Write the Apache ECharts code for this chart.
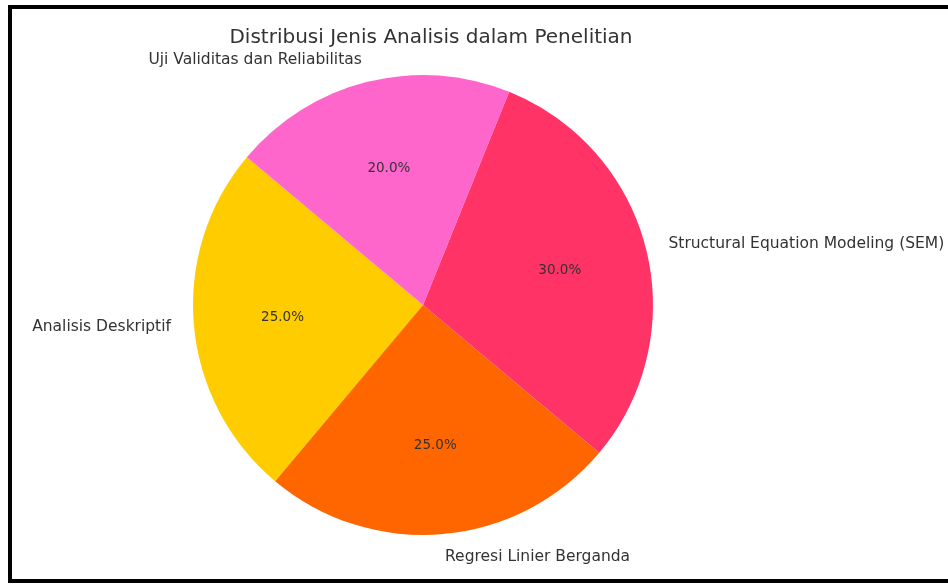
<!DOCTYPE html>
<html>
<head>
<meta charset="utf-8">
<script src="https://cdn.jsdelivr.net/npm/echarts@6/dist/echarts.min.js"></script>
<style>
  html, body { margin: 0; padding: 0; background: #fff; }
  #frame {
    position: absolute; left: 8px; top: 5px; width: 950px; height: 570px;
    border-left: 4px solid #000; border-top: 4px solid #000; border-bottom: 4px solid #000;
  }
  #chart { position: absolute; left: 0; top: 0; width: 948px; height: 584px; }
</style>
</head>
<body>
<div id="frame"></div>
<div id="chart"></div>
<script>
// data order follows the original (counter-clockwise from 140deg)
const categories = ['Analisis Deskriptif', 'Regresi Linier Berganda', 'Structural Equation Modeling (SEM)', 'Uji Validitas dan Reliabilitas']
const values = [25, 25, 30, 20]
const colors = ['#ffcc00', '#ff6600', '#ff3366', '#ff66cc']

const R = 230
const center = [423, 305]
const font = 'DejaVu Sans'

const pieData = categories.map((name, i) => ({ name, value: values[i], itemStyle: { color: colors[i] } }))

const chart = echarts.init(document.getElementById('chart'))
chart.setOption({
  animation: false,
  title: {
    text: 'Distribusi Jenis Analisis dalam Penelitian',
    left: 426,
    textAlign: 'center',
    top: 23,
    textStyle: { fontFamily: font, fontSize: 20, fontWeight: 'normal', color: '#333' },
  },
  series: [
    {
      // wedges + category labels outside (no lines), at 1.1r
      type: 'pie',
      center,
      radius: [0, R],
      startAngle: 140,
      clockwise: false,
      avoidLabelOverlap: false,
      silent: true,
      data: pieData,
      label: {
        show: true,
        position: 'outside',
        distanceToLabelLine: 0,
        fontFamily: font,
        fontSize: 15.5,
        color: '#333',
        formatter: '{b}',
      },
      labelLine: { show: false, length: 23, length2: 0 },
    },
    {
      // transparent ring used only to place percent labels at 0.6r
      type: 'pie',
      center,
      radius: [R * 0.2, R],
      startAngle: 140,
      clockwise: false,
      silent: true,
      data: categories.map((name, i) => ({ name, value: values[i] })),
      itemStyle: { color: 'rgba(0,0,0,0)' },
      label: {
        show: true,
        position: 'inside',
        fontFamily: font,
        fontSize: 13.5,
        color: '#333',
        formatter: p => p.percent.toFixed(1) + '%',
      },
      labelLine: { show: false },
    },
  ],
})
</script>
</body>
</html>
